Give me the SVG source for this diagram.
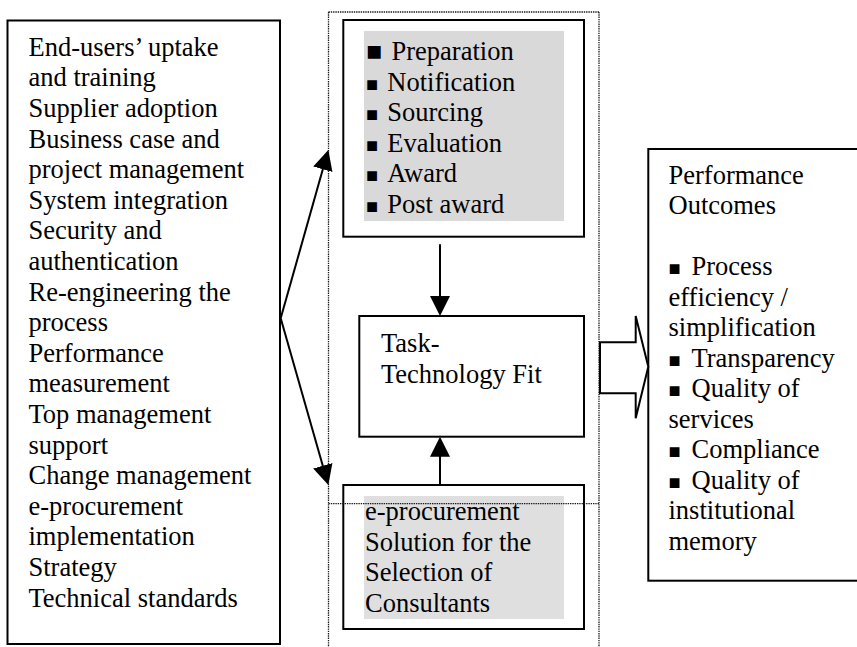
<svg xmlns="http://www.w3.org/2000/svg" width="857" height="647" viewBox="0 0 857 647">
  <style>
    .box { fill: #ffffff; stroke: #000000; stroke-width: 2; }
    .shade { fill: #d9d9d9; }
    .shade2 { fill: #dfdfdf; }
    .dots { fill: none; stroke: #1a1a1a; stroke-width: 1.3; stroke-dasharray: 1.4 0.9; }
    .txt { font-family: "Liberation Serif", "Times New Roman", serif; font-size: 26.5px; fill: #000000; }
    .bul { font-size: 20px; }
    .bulbig { font-size: 26.5px; }
    .conn { fill: none; stroke: #000000; stroke-width: 2; }
    .block { fill: #ffffff; stroke: #000000; stroke-width: 2; stroke-linejoin: miter; }
  </style>
  <defs>
    <marker id="head" markerUnits="userSpaceOnUse" markerWidth="20" markerHeight="20" refX="16" refY="10" orient="auto">
      <path d="M0,0 L20,10 L0,20 z" fill="#000000"/>
    </marker>
  </defs>

  <rect width="857" height="647" fill="#ffffff"/>

  <!-- dotted frame around the middle column -->
  <g id="frame">
    <line class="dots" x1="328.5" y1="12" x2="599" y2="12"/>
    <line class="dots" x1="328.5" y1="12" x2="328.5" y2="647"/>
    <line class="dots" x1="599" y1="12" x2="599" y2="647"/>
  </g>

  <!-- factors -->
  <g id="factors">
    <rect class="box" x="7.5" y="20.5" width="272.5" height="623.5"/>
    <text class="txt" x="28.5" y="55.7">
      <tspan x="28.5">End-users’ uptake</tspan>
      <tspan x="28.5" dy="30.6">and training</tspan>
      <tspan x="28.5" dy="30.6">Supplier adoption</tspan>
      <tspan x="28.5" dy="30.6">Business case and</tspan>
      <tspan x="28.5" dy="30.6">project management</tspan>
      <tspan x="28.5" dy="30.6">System integration</tspan>
      <tspan x="28.5" dy="30.6">Security and</tspan>
      <tspan x="28.5" dy="30.6">authentication</tspan>
      <tspan x="28.5" dy="30.6">Re-engineering the</tspan>
      <tspan x="28.5" dy="30.6">process</tspan>
      <tspan x="28.5" dy="30.6">Performance</tspan>
      <tspan x="28.5" dy="30.6">measurement</tspan>
      <tspan x="28.5" dy="30.6">Top management</tspan>
      <tspan x="28.5" dy="30.6">support</tspan>
      <tspan x="28.5" dy="30.6">Change management</tspan>
      <tspan x="28.5" dy="30.6">e-procurement</tspan>
      <tspan x="28.5" dy="30.6">implementation</tspan>
      <tspan x="28.5" dy="30.6">Strategy</tspan>
      <tspan x="28.5" dy="30.6">Technical standards</tspan>
    </text>
  </g>

  <!-- procurement stages -->
  <g id="stages">
    <rect class="box" x="343.3" y="20" width="240.7" height="216.7"/>
    <rect class="shade" x="364" y="31" width="200" height="190"/>
    <text class="txt">
      <tspan class="bulbig" x="366" y="60">■</tspan><tspan x="391.5" y="60">Preparation</tspan>
      <tspan class="bul" x="366" y="90.6">■</tspan><tspan x="387.3" y="90.6">Notification</tspan>
      <tspan class="bul" x="366" y="121.2">■</tspan><tspan x="387.3" y="121.2">Sourcing</tspan>
      <tspan class="bul" x="366" y="151.8">■</tspan><tspan x="387.3" y="151.8">Evaluation</tspan>
      <tspan class="bul" x="366" y="182.4">■</tspan><tspan x="387.3" y="182.4">Award</tspan>
      <tspan class="bul" x="366" y="213">■</tspan><tspan x="387.3" y="213">Post award</tspan>
    </text>
  </g>

  <!-- task-technology fit -->
  <g id="ttf">
    <rect class="box" x="359.3" y="316" width="224.7" height="120.7"/>
    <text class="txt">
      <tspan x="381" y="352">Task-</tspan>
      <tspan x="381" y="382.5">Technology Fit</tspan>
    </text>
  </g>

  <!-- e-procurement solution -->
  <g id="solution">
    <rect class="box" x="343.3" y="485" width="240.7" height="144"/>
    <rect class="shade2" x="364" y="496" width="200" height="123"/>
    <text class="txt">
      <tspan x="365" y="520">e-procurement</tspan>
      <tspan x="365" y="550.5">Solution for the</tspan>
      <tspan x="365" y="581">Selection of</tspan>
      <tspan x="365" y="611.5">Consultants</tspan>
    </text>
  </g>

  <!-- dotted divider above the solution box -->
  <line class="dots" x1="328.5" y1="503.7" x2="599" y2="503.7"/>

  <!-- performance outcomes -->
  <g id="outcomes">
    <rect class="box" x="648.3" y="149" width="215" height="431.7"/>
    <text class="txt">
      <tspan x="668.5" y="183.5">Performance</tspan>
      <tspan x="668.5" y="214">Outcomes</tspan>
      <tspan class="bul" x="668.5" y="275">■</tspan><tspan x="691.5" y="275">Process</tspan>
      <tspan x="668.5" y="305.5">efficiency /</tspan>
      <tspan x="668.5" y="336">simplification</tspan>
      <tspan class="bul" x="668.5" y="366.5">■</tspan><tspan x="691.5" y="366.5">Transparency</tspan>
      <tspan class="bul" x="668.5" y="397">■</tspan><tspan x="691.5" y="397">Quality of</tspan>
      <tspan x="668.5" y="427.5">services</tspan>
      <tspan class="bul" x="668.5" y="458">■</tspan><tspan x="691.5" y="458">Compliance</tspan>
      <tspan class="bul" x="668.5" y="488.5">■</tspan><tspan x="691.5" y="488.5">Quality of</tspan>
      <tspan x="668.5" y="519">institutional</tspan>
      <tspan x="668.5" y="549.5">memory</tspan>
    </text>
  </g>

  <!-- connectors -->
  <g id="connectors">
    <line class="conn" x1="280.7" y1="318.3" x2="327.2" y2="153.8" marker-end="url(#head)"/>
    <line class="conn" x1="280.7" y1="318.3" x2="327.2" y2="481.2" marker-end="url(#head)"/>
    <line class="conn" x1="440" y1="244.3" x2="440" y2="312" marker-end="url(#head)"/>
    <line class="conn" x1="440" y1="485" x2="440" y2="440.7" marker-end="url(#head)"/>
    <polygon class="block" points="600,342.3 635.7,342.3 635.7,316 648.3,366.7 635.7,418.3 635.7,393.3 600,393.3"/>
  </g>
</svg>
